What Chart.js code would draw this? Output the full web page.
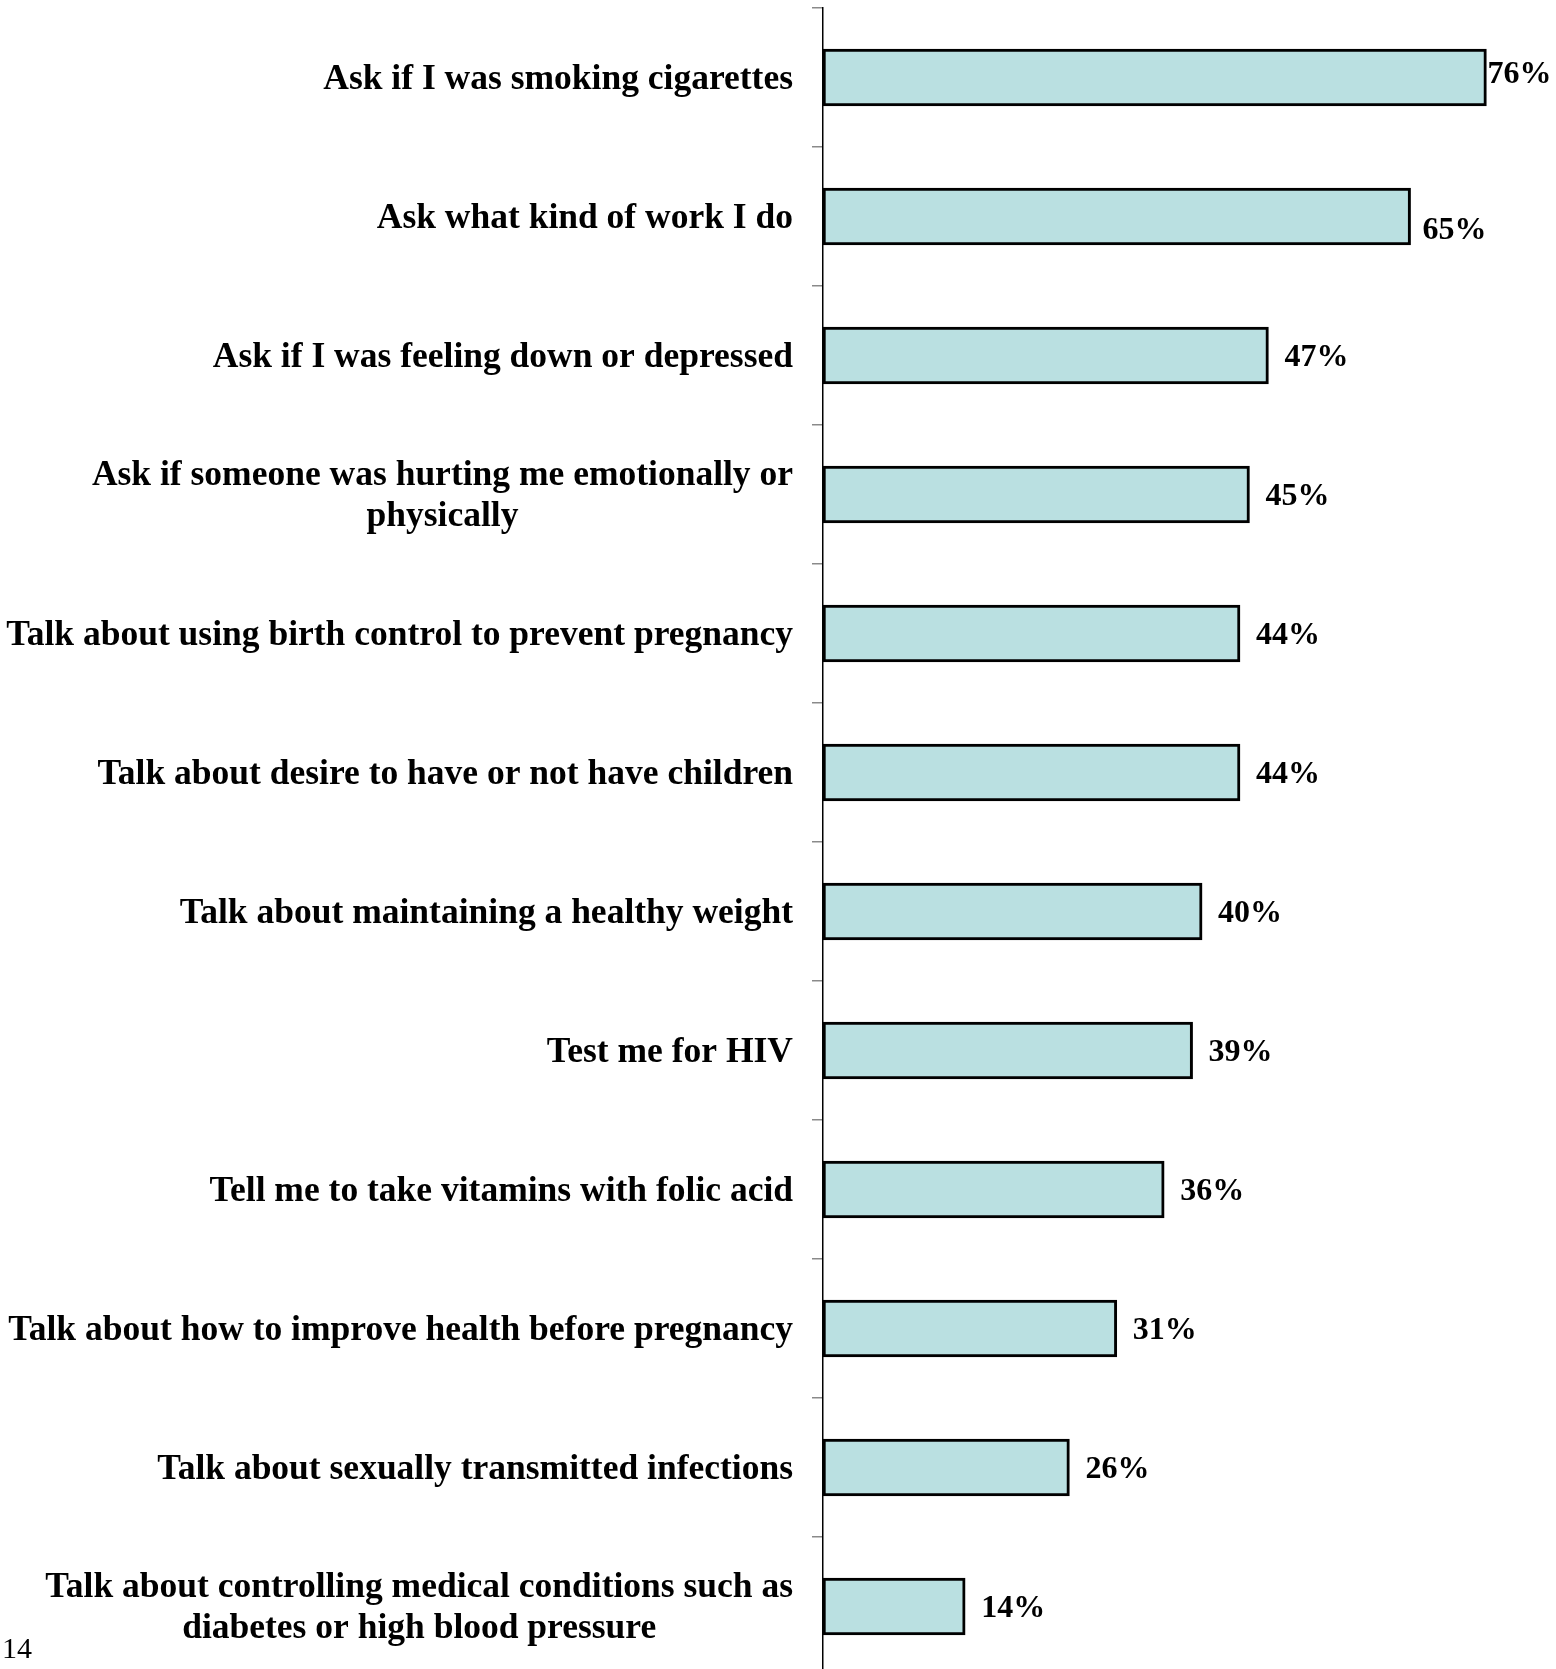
<!DOCTYPE html>
<html>
<head>
<meta charset="utf-8">
<script src="https://cdn.jsdelivr.net/npm/chart.js@4/dist/chart.umd.min.js"></script>
<style>
  html, body { margin: 0; padding: 0; background: #ffffff; overflow: hidden; }
  #wrap { position: relative; width: 1556px; height: 1676px; }
</style>
</head>
<body>
<div id="wrap"><canvas id="c" width="1556" height="1676"></canvas></div>
<script>
// ---- data ----
const categories = [
  ["Ask if I was smoking cigarettes"],
  ["Ask what kind of work I do"],
  ["Ask if I was feeling down or depressed"],
  ["Ask if someone was hurting me emotionally or", "physically"],
  ["Talk about using birth control to prevent pregnancy"],
  ["Talk about desire to have or not have children"],
  ["Talk about maintaining a healthy weight"],
  ["Test me for HIV"],
  ["Tell me to take vitamins with folic acid"],
  ["Talk about how to improve health before pregnancy"],
  ["Talk about sexually transmitted infections"],
  ["Talk about controlling medical conditions such as", "diabetes or high blood pressure"]
];
// bar lengths as drawn in the picture (percent)
const barValues = [70, 62, 47, 45, 44, 44, 40, 39, 36, 31, 26, 15];
// value labels printed next to the bars
const valueLabels = ["76%", "65%", "47%", "45%", "44%", "44%", "40%", "39%", "36%", "31%", "26%", "14%"];
const pageNumber = "14";

const FONT_CAT = 'bold 35.5px "Liberation Serif", "Times New Roman", serif';
const FONT_VAL = 'bold 32px "Liberation Serif", "Times New Roman", serif';

const labelPlugin = {
  id: 'customLabels',
  afterDraw(chart, args, opts) {
    const ctx = chart.ctx;
    const yScale = chart.scales.y;
    const meta = chart.getDatasetMeta(0);
    ctx.save();
    // category labels: block right-aligned, lines centered within the block
    ctx.font = FONT_CAT;
    ctx.fillStyle = '#000';
    ctx.textBaseline = 'middle';
    ctx.textAlign = 'center';
    const rightX = yScale.right - opts.labelGap;
    const lh = opts.lineHeight;
    categories.forEach((lines, i) => {
      const yc = yScale.getPixelForTick(i) + opts.textDy;
      const w = Math.max(...lines.map(l => ctx.measureText(l).width));
      const cx = rightX - w / 2;
      const y0 = yc - (lines.length - 1) * lh / 2;
      lines.forEach((l, k) => ctx.fillText(l, cx, y0 + k * lh));
    });
    // value labels
    ctx.font = FONT_VAL;
    ctx.textAlign = 'left';
    meta.data.forEach((bar, i) => {
      const n = (opts.nudge && opts.nudge[i]) || {};
      const dx = n.dx !== undefined ? n.dx : opts.valueGap;
      const dy = (n.dy || 0) + opts.textDy;
      ctx.fillText(valueLabels[i], bar.x + dx, bar.y + dy);
    });
    // page number
    ctx.font = '30px "Liberation Serif", "Times New Roman", serif';
    ctx.textBaseline = 'alphabetic';
    ctx.fillText(pageNumber, 2, 1658);
    ctx.restore();
  }
};

new Chart(document.getElementById('c'), {
  type: 'bar',
  data: {
    labels: categories,
    datasets: [{
      data: barValues,
      backgroundColor: 'rgb(186,224,225)',
      borderColor: '#000000',
      borderWidth: 3,
      borderSkipped: false,
      barThickness: 57
    }]
  },
  options: {
    indexAxis: 'y',
    responsive: false,
    animation: false,
    events: [],
    layout: { padding: { left: 0, top: 8, right: 26, bottom: 0 } },
    plugins: {
      legend: { display: false },
      tooltip: { enabled: false },
      customLabels: {
        labelGap: 30,
        lineHeight: 40.5,
        valueGap: 16,
        textDy: 2,
        nudge: { 0: { dx: 1, dy: -5 }, 1: { dx: 12, dy: 12 } }
      }
    },
    scales: {
      x: {
        display: false,
        min: 0,
        max: 74.6
      },
      y: {
        position: 'left',
        ticks: { display: false },
        grid: {
          offset: true,
          drawOnChartArea: false,
          drawTicks: true,
          tickLength: 11,
          color: '#8a8a8a',
          lineWidth: 1.5
        },
        border: { display: true, color: '#000000', width: 1.5 },
        afterFit(scale) {
          scale.width = 823;
          scale.paddingTop = 0;
          scale.paddingBottom = 0;
        }
      }
    }
  },
  plugins: [labelPlugin]
});
</script>
</body>
</html>
